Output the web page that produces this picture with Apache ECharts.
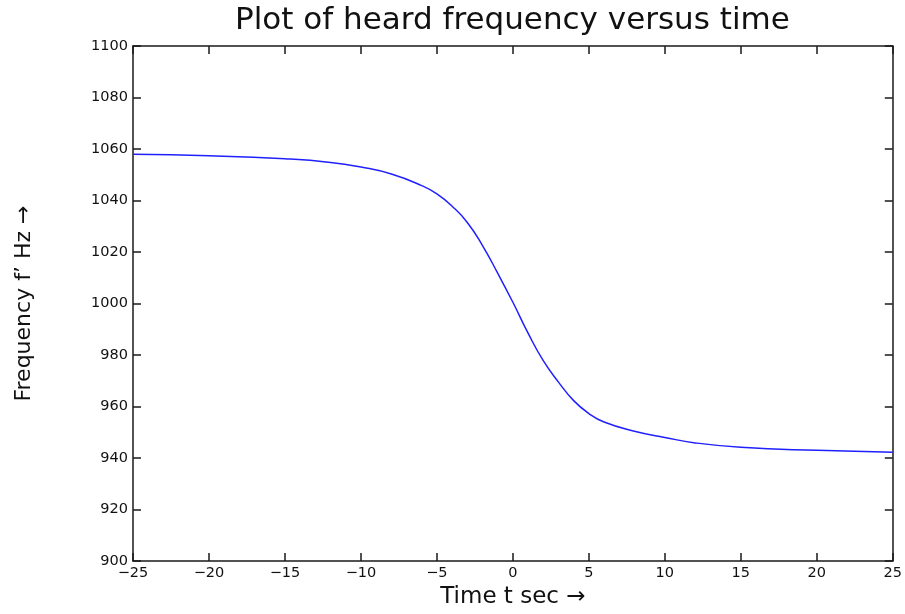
<!DOCTYPE html>
<html>
<head>
<meta charset="utf-8">
<script src="https://cdn.jsdelivr.net/npm/echarts@6/dist/echarts.min.js"></script>
<style>
html,body{margin:0;padding:0;background:#fff;}
#chart{width:905px;height:614px;}
</style>
</head>
<body>
<div id="chart"></div>
<script>
// Data
var timeValues = [-25, -20, -15, -12, -10, -8, -6, -5, -4, -3, -2, -1, 0, 1, 2, 3, 4, 5, 6, 8, 10, 12, 15, 20, 25];
var freqValues = [1058.0, 1057.4, 1056.2, 1054.8, 1053.0, 1050.3, 1045.8, 1042.6, 1037.8, 1031.5, 1022.5, 1011.8, 1000.5, 988.5, 977.8, 969.5, 962.3, 957.3, 954.0, 950.4, 948.0, 945.9, 944.2, 943.0, 942.3];
var xTicks = [-25, -20, -15, -10, -5, 0, 5, 10, 15, 20, 25];
var yTicks = [900, 920, 940, 960, 980, 1000, 1020, 1040, 1060, 1080, 1100];

var titleText = 'Plot of heard frequency versus time';
var xName = 'Time t sec \u2192';
var yName = 'Frequency f\u2019 Hz \u2192';

var pts = timeValues.map(function (t, i) { return [t, freqValues[i]]; });

var FONT = '"DejaVu Sans", "Liberation Sans", Arial, sans-serif';
var axisLineStyle = { color: '#1a1a1a', width: 1.5 };
function fmtX(v) { return String(v).replace('-', '\u2212'); }
function fmtY(v) { return String(v); }

var chart = echarts.init(document.getElementById('chart'), null, { renderer: 'canvas' });
chart.setOption({
  animation: false,
  backgroundColor: '#fff',
  title: {
    text: titleText,
    left: 230,
    top: 0,
    textStyle: { fontFamily: FONT, fontSize: 31, fontWeight: 'normal', color: '#111' }
  },
  grid: { left: 133, right: 10, top: 46, bottom: 51, containLabel: false },
  xAxis: [{
    type: 'value',
    min: xTicks[0], max: xTicks[xTicks.length - 1], interval: 5,
    position: 'bottom',
    name: xName, nameLocation: 'middle', nameGap: 20,
    nameTextStyle: { fontFamily: FONT, fontSize: 23, color: '#111' },
    axisLine: { show: true, onZero: false, lineStyle: axisLineStyle },
    axisTick: { show: true, inside: true, length: 8, lineStyle: axisLineStyle },
    axisLabel: { fontFamily: FONT, fontSize: 14.5, color: '#111', margin: 5, formatter: fmtX },
    splitLine: { show: false }
  }, {
    type: 'value',
    min: xTicks[0], max: xTicks[xTicks.length - 1], interval: 5,
    position: 'top',
    axisLine: { show: true, onZero: false, lineStyle: axisLineStyle },
    axisTick: { show: true, inside: true, length: 8, lineStyle: axisLineStyle },
    axisLabel: { show: false },
    splitLine: { show: false }
  }],
  yAxis: [{
    type: 'value',
    min: yTicks[0], max: yTicks[yTicks.length - 1], interval: 20,
    position: 'left',
    name: yName, nameLocation: 'middle', nameGap: 98, nameRotate: 90,
    nameTextStyle: { fontFamily: FONT, fontSize: 22, color: '#111' },
    axisLine: { show: true, onZero: false, lineStyle: axisLineStyle },
    axisTick: { show: true, inside: true, length: 8, lineStyle: axisLineStyle },
    axisLabel: { fontFamily: FONT, fontSize: 14.5, color: '#111', margin: 5, formatter: fmtY },
    splitLine: { show: false }
  }, {
    type: 'value',
    min: yTicks[0], max: yTicks[yTicks.length - 1], interval: 20,
    position: 'right',
    axisLine: { show: true, onZero: false, lineStyle: axisLineStyle },
    axisTick: { show: true, inside: true, length: 8, lineStyle: axisLineStyle },
    axisLabel: { show: false },
    splitLine: { show: false }
  }],
  series: [{
    type: 'line',
    data: pts,
    xAxisIndex: 0, yAxisIndex: 0,
    smooth: 0.5,
    showSymbol: false,
    lineStyle: { color: '#2020ff', width: 1.5 },
    itemStyle: { color: '#2020ff' }
  }]
});
</script>
</body>
</html>
